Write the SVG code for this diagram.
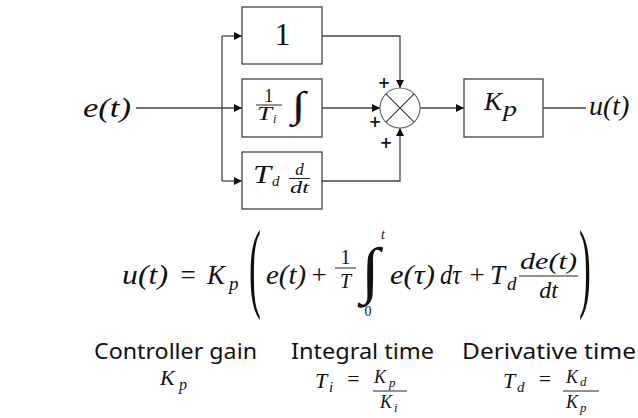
<svg xmlns="http://www.w3.org/2000/svg" width="638" height="418" viewBox="0 0 638 418">
<style>
.box{fill:#fff;stroke:#444;stroke-width:1.3}
.ln{fill:none;stroke:#444;stroke-width:1.3}
.bar{stroke:#222;stroke-width:1}
.m{font-family:"Liberation Serif",serif;font-style:italic;fill:#111}
.r{font-family:"Liberation Serif",serif;fill:#111}
.pl{font-family:"DejaVu Sans",sans-serif;font-weight:bold;font-size:15px;fill:#111;text-anchor:middle}
.lbl{font-family:"Noto Sans",sans-serif;font-size:21px;fill:#111}
</style>
<defs>
<marker id="ah" markerUnits="userSpaceOnUse" markerWidth="9" markerHeight="9" refX="8" refY="4" orient="auto">
<path d="M0,0 L8,4 L0,8 z" fill="#111"/>
</marker>
</defs>
<g id="connectors">
<path class="ln" d="M136,108 H242" marker-end="url(#ah)"/>
<path class="ln" d="M222,36 V181"/>
<path class="ln" d="M222,36 H242" marker-end="url(#ah)"/>
<path class="ln" d="M222,181 H242" marker-end="url(#ah)"/>
<path class="ln" d="M322,36 H400 V88" marker-end="url(#ah)"/>
<path class="ln" d="M322,108 H380" marker-end="url(#ah)"/>
<path class="ln" d="M322,181 H400 V128" marker-end="url(#ah)"/>
<path class="ln" d="M420,108 H464" marker-end="url(#ah)"/>
<path class="ln" d="M543,108 H586"/>
</g>
<g id="n-e">
<text class="m" x="83" y="117" font-size="28" textLength="48" lengthAdjust="spacingAndGlyphs">e(t)</text>
</g>
<g id="n-one">
<rect class="box" x="242" y="7" width="80" height="57"/>
<text class="r" x="282.5" y="45" font-size="32" text-anchor="middle">1</text>
</g>
<g id="n-int">
<rect class="box" x="242" y="79" width="80" height="58"/>
<text class="r" x="268.8" y="102" font-size="18" text-anchor="middle">1</text>
<line class="bar" x1="256" y1="105" x2="282" y2="105"/>
<text class="m" x="257" y="119.7" font-size="18" textLength="15" lengthAdjust="spacingAndGlyphs">T</text>
<text class="m" x="273" y="123" font-size="12">i</text>
<text class="r" font-size="37" transform="translate(292,116.5) scale(1.35,1)">∫</text>
</g>
<g id="n-der">
<rect class="box" x="242" y="152" width="80" height="57"/>
<text class="m" x="253" y="183.3" font-size="26" textLength="18" lengthAdjust="spacingAndGlyphs">T</text>
<text class="m" x="272" y="186" font-size="15">d</text>
<text class="m" x="299.5" y="175" font-size="17" text-anchor="middle">d</text>
<line class="bar" x1="289" y1="178.5" x2="310" y2="178.5"/>
<text class="m" x="290" y="193.3" font-size="17" textLength="19" lengthAdjust="spacingAndGlyphs">dt</text>
</g>
<g id="n-sum">
<circle cx="400" cy="108" r="20" fill="#fff" stroke="#666" stroke-width="1.2"/>
<path d="M385.9,93.9 L414.1,122.1 M414.1,93.9 L385.9,122.1" stroke="#333" stroke-width="1.1"/>
<text class="pl" x="384" y="88">+</text>
<text class="pl" x="375" y="126.5">+</text>
<text class="pl" x="386" y="148">+</text>
</g>
<g id="n-kp">
<rect class="box" x="464" y="79" width="79" height="58"/>
<text class="m" x="484" y="110.3" font-size="25" textLength="18" lengthAdjust="spacingAndGlyphs">K</text>
<text class="m" x="503" y="116" font-size="22" textLength="14" lengthAdjust="spacingAndGlyphs">p</text>
</g>
<g id="n-u">
<text class="m" x="589" y="114.5" font-size="28">u(t)</text>
</g>
<g id="formula">
<text class="m" x="122" y="284" font-size="27" textLength="46" lengthAdjust="spacingAndGlyphs">u(t)</text>
<text class="r" x="188" y="284" font-size="27" text-anchor="middle">=</text>
<text class="m" x="207" y="284" font-size="27">K</text>
<text class="m" x="229" y="290" font-size="19">p</text>
<text class="r" font-size="99" transform="translate(249,298.5) scale(0.36,1)">(</text>
<text class="m" x="266" y="284" font-size="27" textLength="40" lengthAdjust="spacingAndGlyphs">e(t)</text>
<text class="r" x="319" y="284" font-size="27" text-anchor="middle">+</text>
<text class="r" x="345.5" y="264" font-size="20" text-anchor="middle">1</text>
<line class="bar" x1="335" y1="268" x2="356" y2="268"/>
<text class="m" x="345.5" y="288" font-size="20" text-anchor="middle">T</text>
<text class="r" font-size="62" transform="translate(361,291) scale(1.1,1)">∫</text>
<text class="m" x="381" y="239" font-size="14">t</text>
<text class="r" x="368" y="316" font-size="14" text-anchor="middle">0</text>
<text class="m" x="390" y="284" font-size="27" textLength="45" lengthAdjust="spacingAndGlyphs">e(τ)</text>
<text class="m" x="440" y="284" font-size="27" textLength="21" lengthAdjust="spacingAndGlyphs">dτ</text>
<text class="r" x="477" y="284" font-size="27" text-anchor="middle">+</text>
<text class="m" x="490" y="284" font-size="27">T</text>
<text class="m" x="507" y="290" font-size="19">d</text>
<text class="m" x="520" y="269" font-size="24" textLength="57" lengthAdjust="spacingAndGlyphs">de(t)</text>
<line class="bar" x1="519" y1="276" x2="578" y2="276"/>
<text class="m" x="548.5" y="298" font-size="24" text-anchor="middle">dt</text>
<text class="r" font-size="99" transform="translate(579,298.5) scale(0.36,1)">)</text>
</g>
<g id="params">
<text class="lbl" x="94" y="359" textLength="163" lengthAdjust="spacingAndGlyphs">Controller gain</text>
<text class="lbl" x="291" y="359" textLength="143" lengthAdjust="spacingAndGlyphs">Integral time</text>
<text class="lbl" x="462" y="359" textLength="174" lengthAdjust="spacingAndGlyphs">Derivative time</text>
<text class="m" x="160" y="385" font-size="22">K</text>
<text class="m" x="179" y="390" font-size="16">p</text>
<text class="m" x="315" y="388" font-size="22">T</text>
<text class="m" x="329" y="392" font-size="15">i</text>
<text class="r" x="353.5" y="386" font-size="22" text-anchor="middle">=</text>
<text class="m" x="374" y="383" font-size="18">K</text>
<text class="m" x="389" y="387" font-size="13">p</text>
<line class="bar" x1="373" y1="391" x2="407" y2="391"/>
<text class="m" x="380" y="408" font-size="18">K</text>
<text class="m" x="394" y="412" font-size="13">i</text>
<text class="m" x="503" y="388" font-size="22">T</text>
<text class="m" x="517" y="392" font-size="15">d</text>
<text class="r" x="545" y="386" font-size="22" text-anchor="middle">=</text>
<text class="m" x="566" y="383" font-size="18">K</text>
<text class="m" x="580" y="386" font-size="13">d</text>
<line class="bar" x1="563" y1="391" x2="599" y2="391"/>
<text class="m" x="566" y="408" font-size="18">K</text>
<text class="m" x="580" y="412" font-size="13">p</text>
</g>
</svg>
